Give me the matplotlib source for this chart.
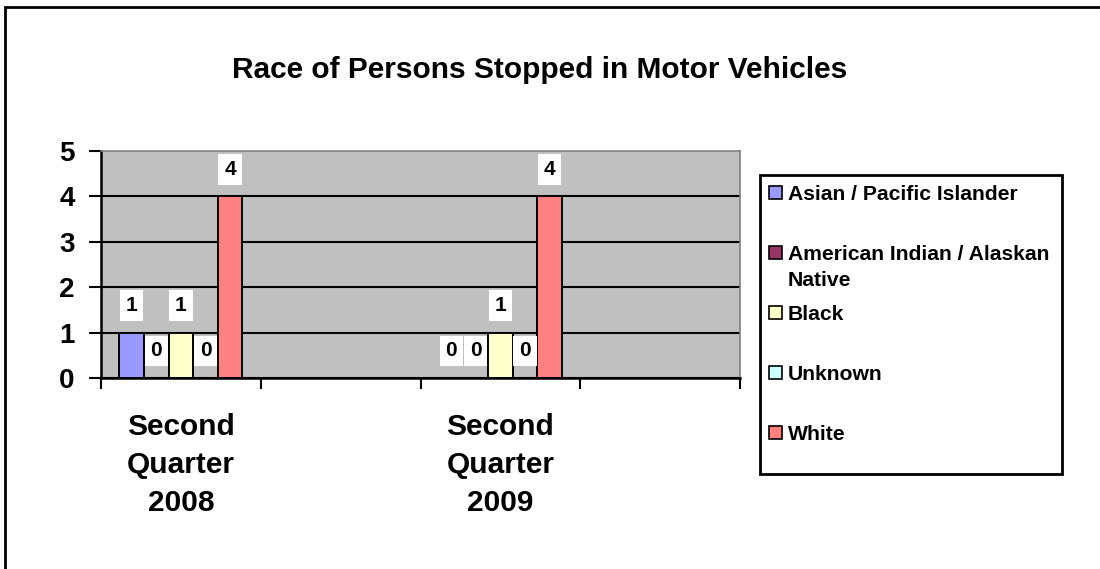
import numpy as np
import matplotlib
matplotlib.use("Agg")
import matplotlib.pyplot as plt
from matplotlib.patches import Rectangle

plt.rcParams['font.family'] = ['Liberation Sans', 'DejaVu Sans']
plt.rcParams['font.weight'] = 'bold'

# chart data (blank columns have no values)
categories = ["Second\nQuarter\n2008", "", "Second\nQuarter\n2009", ""]
series_names = ["Asian / Pacific Islander", "American Indian / Alaskan\nNative",
                "Black", "Unknown", "White"]
asian = [1, np.nan, 0, np.nan]
american_indian = [0, np.nan, 0, np.nan]
black = [1, np.nan, 1, np.nan]
unknown = [0, np.nan, 0, np.nan]
white = [4, np.nan, 4, np.nan]
series_values = [asian, american_indian, black, unknown, white]
colors = ["#9999FF", "#993366", "#FFFFCC", "#CCFFFF", "#FF8080"]

W, H = 1100, 569


def fx(px):
    return px / W


def fy(py):
    return 1 - py / H


fig = plt.figure(figsize=(W / 100, H / 100), dpi=100)
fig.patch.set_facecolor("white")

# outer chart border (only top/left visible in the crop)
fig.patches.append(Rectangle((fx(5), fy(1200)), fx(1200), fy(7) - fy(1200),
                             transform=fig.transFigure, fill=False,
                             edgecolor="black", linewidth=2))

ax = fig.add_axes([fx(101), fy(378), fx(740) - fx(101), fy(151) - fy(378)])
ax.set_facecolor("#C0C0C0")

x = np.arange(len(categories))
bw = 0.154
for i, (vals, col) in enumerate(zip(series_values, colors)):
    pos = x + (i - 2) * bw
    ax.bar(pos, vals, width=bw, color=col, edgecolor="black", linewidth=1.4, zorder=3)
    for p, v in zip(pos, vals):
        if np.isnan(v):
            continue
        ax.annotate(str(int(v)), (p, v), xytext=(0, 19.5), textcoords="offset points",
                    ha="center", va="center", fontsize=15, fontweight="bold", zorder=5,
                    bbox=dict(boxstyle="square,pad=0.28", facecolor="white", edgecolor="none"))

ax.set_xlim(-0.5, len(categories) - 0.5)
ax.set_ylim(0, 5)
ax.set_yticks(range(0, 6))
ax.set_xticks(x)
ax.set_xticklabels(categories, fontsize=21.5, fontweight="bold", linespacing=1.45)
ax.set_xticks(np.arange(-0.5, len(categories)), minor=True)
ax.tick_params(axis="x", which="major", length=0, pad=25)
ax.tick_params(axis="x", which="minor", length=8, width=1.5, direction="out")
ax.tick_params(axis="y", length=9, width=1.5, direction="out", pad=10, labelsize=20)
for lab in ax.get_yticklabels():
    lab.set_fontweight("bold")

ax.yaxis.grid(True, color="black", linewidth=1.5)
ax.set_axisbelow(True)
ax.get_ygridlines()[-1].set_visible(False)

ax.spines["left"].set_linewidth(1.8)
ax.spines["bottom"].set_linewidth(1.8)
ax.spines["left"].set_color("black")
ax.spines["bottom"].set_color("black")
ax.spines["top"].set_color("#808080")
ax.spines["right"].set_color("#808080")
ax.spines["top"].set_linewidth(1.2)
ax.spines["right"].set_linewidth(1.2)

fig.text(fx(540), fy(78), "Race of Persons Stopped in Motor Vehicles",
         ha="center", va="baseline", fontsize=21.5, fontweight="bold")

# legend box
fig.patches.append(Rectangle((fx(760), fy(474)), fx(1062) - fx(760), fy(175) - fy(474),
                             transform=fig.transFigure, facecolor="white",
                             edgecolor="black", linewidth=2, zorder=1))
for i, (name, col) in enumerate(zip(series_names, colors)):
    yc = 193 + 60 * i
    fig.patches.append(Rectangle((fx(769), fy(yc + 6)), fx(13), fy(0) - fy(13),
                                 transform=fig.transFigure, facecolor=col,
                                 edgecolor="black", linewidth=1.2, zorder=2))
    for j, line in enumerate(name.split("\n")):
        fig.text(fx(788), fy(yc + 26 * j), line, ha="left", va="center_baseline",
                 fontsize=15.2, fontweight="bold", zorder=3)

fig.savefig("out.png", dpi=100)
